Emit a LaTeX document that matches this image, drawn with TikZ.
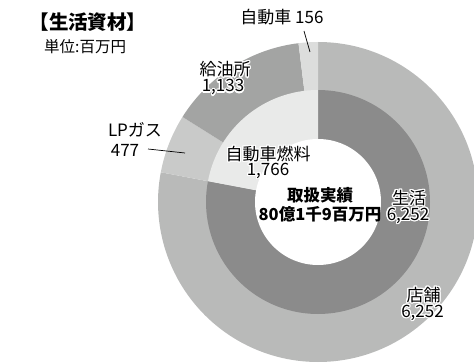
\documentclass[tikz,border=0pt]{standalone}
\usepackage{fontspec}
\setmainfont{Noto Sans CJK JP}
\usepackage{contour}
\contourlength{1.2pt}
\newcommand\halo[1]{\contour{white}{#1}}
\definecolor{tenpo}{RGB}{185,186,185}
\definecolor{seikatsu}{RGB}{139,139,139}
\definecolor{lpgas}{RGB}{201,202,201}
\definecolor{kyuyu}{RGB}{163,164,163}
\definecolor{jidosha}{RGB}{220,221,220}
\definecolor{nenryo}{RGB}{233,234,233}
\begin{document}
\begin{tikzpicture}[x=1pt,y=1pt,
  lbl/.style={inner sep=0pt, font=\fontsize{17}{17}\selectfont},
  cen/.style={inner sep=0pt, font=\fontsize{16.5}{17}\selectfont\bfseries},
  leader/.style={draw=black, line width=0.7pt}]
\useasboundingbox (0,0) rectangle (474,362);
\begin{scope}[shift={(318,160)}]
  % outer ring
  \fill[tenpo] (0,0) -- (90:160) arc[start angle=90, end angle=-190.709, radius=160] -- cycle;
  \fill[lpgas] (0,0) -- (-190.709:160) arc[start angle=-190.709, end angle=-212.126, radius=160] -- cycle;
  \fill[kyuyu] (0,0) -- (-212.126:160) arc[start angle=-212.126, end angle=-262.996, radius=160] -- cycle;
  \fill[jidosha] (0,0) -- (-262.996:160) arc[start angle=-262.996, end angle=-270, radius=160] -- cycle;
  % inner ring
  \fill[seikatsu] (0,0) -- (90:112) arc[start angle=90, end angle=-190.709, radius=112] -- cycle;
  \fill[nenryo] (0,0) -- (-190.709:112) arc[start angle=-190.709, end angle=-270, radius=112] -- cycle;
  % hole
  \fill[white] (0,0) circle[radius=63];
\end{scope}
% title
\node[inner sep=0pt, font=\fontsize{19.5}{20}\selectfont\bfseries] (title) at (88,340) {【生活資材】};
\node[inner sep=0pt, font=\fontsize{15.5}{16}\selectfont, anchor=west] (unit) at (44,315.5) {単位:百万円};
% labels
\node[lbl] (jd) at (282,345) {自動車 156};
\coordinate (jdtop) at (304,331);
\coordinate (jdp) at (310,310);
\draw[leader] (jdtop) -- (jdp);
\node[lbl] (ky1) at (225,292) {\halo{給油所}};
\node[lbl] (ky2) at (223,274) {\halo{1,133}};
\node[lbl] (lp1) at (135,232.5) {LPガス};
\node[lbl] (lp2) at (125,212) {477};
\coordinate (lps) at (148,213);
\coordinate (lpp) at (185,209);
\draw[leader] (lps) -- (lpp);
\node[lbl] (nr1) at (268,207.5) {\halo{自動車燃料}};
\node[lbl] (nr2) at (268,190.5) {\halo{1,766}};
\node[cen] (c1) at (320,167) {取扱実績};
\node[cen] (c2) at (320,147.5) {80億1千9百万円};
\node[lbl] (se1) at (409,163.5) {\halo{生活}};
\node[lbl] (se2) at (408,145.5) {\halo{6,252}};
\node[lbl] (tp1) at (423.5,66.5) {\halo{店舗}};
\node[lbl] (tp2) at (422.5,48.5) {\halo{6,252}};
\end{tikzpicture}
\end{document}
